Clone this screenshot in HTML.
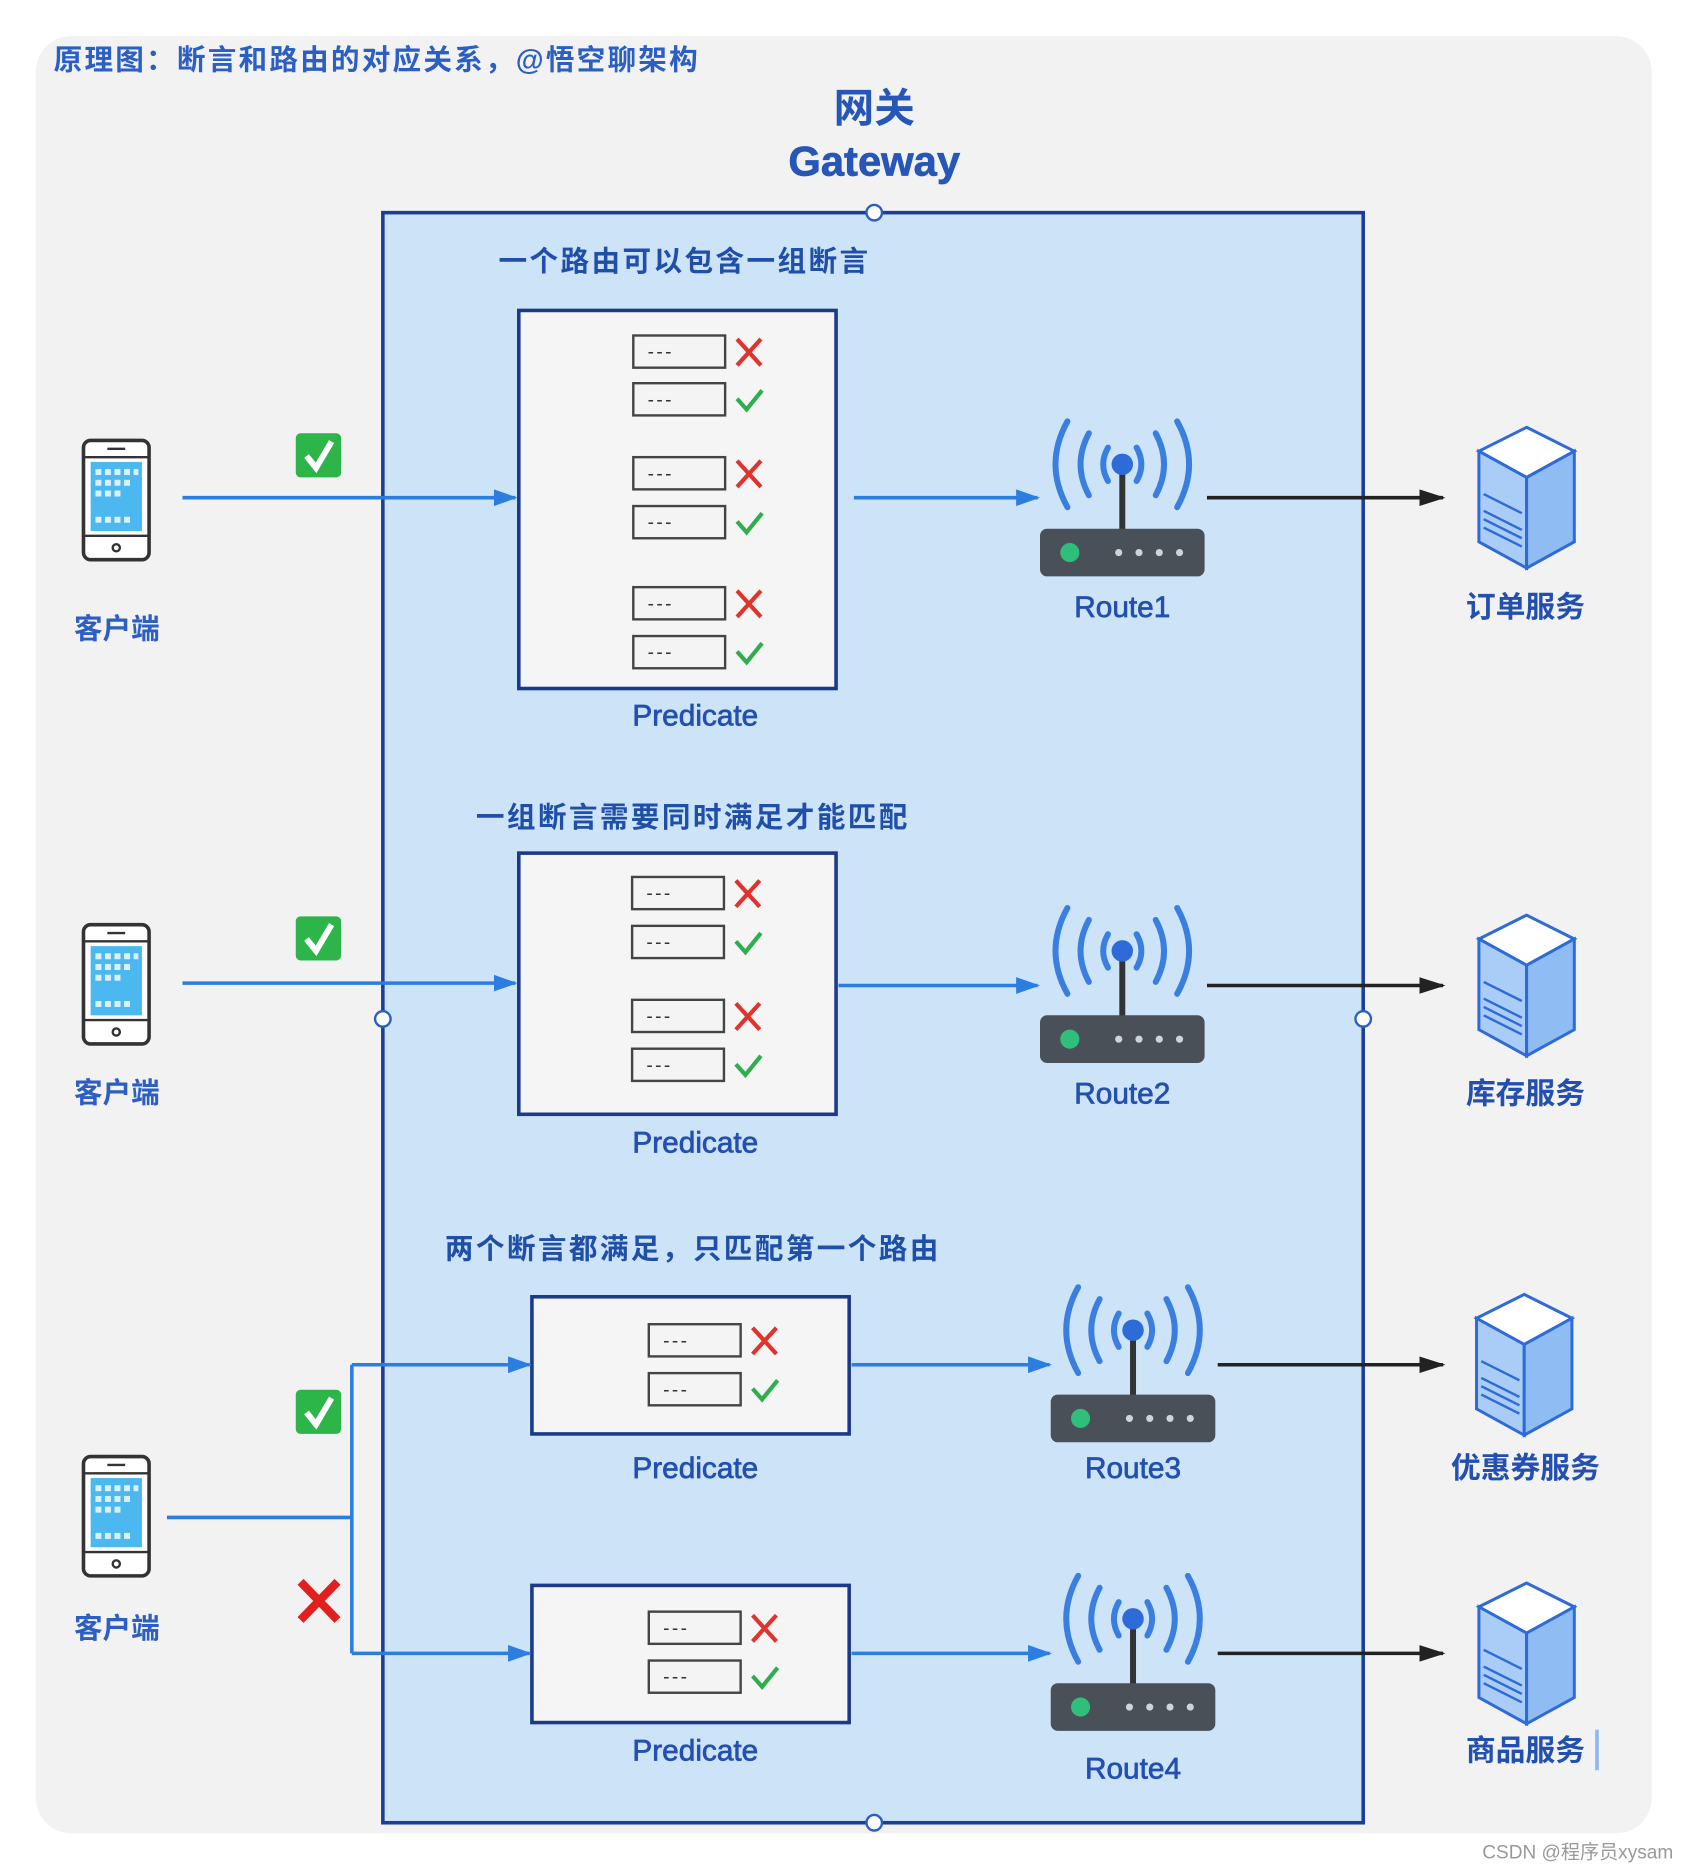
<!DOCTYPE html>
<html><head><meta charset="utf-8">
<style>
html,body{margin:0;padding:0;background:#fff;}
svg{display:block;}
text{font-family:"Liberation Sans","Noto Sans CJK SC",sans-serif;}
</style></head>
<body>
<svg width="1690" height="1872" viewBox="0 0 1417 1569" xmlns="http://www.w3.org/2000/svg">
<defs>
  <marker id="ak" markerWidth="22" markerHeight="14" refX="20" refY="7" orient="auto" markerUnits="userSpaceOnUse">
    <path d="M0,0 L22,7 L0,14 z" fill="#222"/>
  </marker>
  <marker id="ab2" markerWidth="20" markerHeight="14" refX="18" refY="7" orient="auto" markerUnits="userSpaceOnUse">
    <path d="M0,0 L20,7 L0,14 z" fill="#2b7de0"/>
  </marker>
  <g id="rowx">
    <rect x="0" y="0" width="77" height="27" fill="#f4f4f4" stroke="#444" stroke-width="2"/>
    <text x="12" y="19" font-size="16" fill="#333" letter-spacing="2">---</text>
    <path d="M87,3 L107,25 M107,3 L87,25" stroke="#e0332e" stroke-width="3.5"/>
  </g>
  <g id="rowv">
    <rect x="0" y="0" width="77" height="27" fill="#f4f4f4" stroke="#444" stroke-width="2"/>
    <text x="12" y="19" font-size="16" fill="#333" letter-spacing="2">---</text>
    <path d="M87,13 L95,22 L108,6" stroke="#2fae4d" stroke-width="3.5" fill="none"/>
  </g>
  <g id="router">
    <g fill="none" stroke="#3a7fe0" stroke-width="5" stroke-linecap="round">
      <path d="M-12,-14 Q-20,0 -12,14"/><path d="M12,-14 Q20,0 12,14"/>
      <path d="M-28,-26 Q-42,0 -28,26"/><path d="M28,-26 Q42,0 28,26"/>
      <path d="M-46,-36 Q-66,0 -46,36"/><path d="M46,-36 Q66,0 46,36"/>
    </g>
    <line x1="0" y1="0" x2="0" y2="55" stroke="#333" stroke-width="5"/>
    <circle cx="0" cy="0" r="9" fill="#2e6ad8"/>
    <rect x="-69" y="54" width="138" height="40" rx="6" fill="#4a5058"/>
    <circle cx="-44" cy="74" r="8" fill="#2fbf7a"/>
    <g fill="#d0d3d8"><circle cx="-3" cy="74" r="3"/><circle cx="14" cy="74" r="3"/><circle cx="31" cy="74" r="3"/><circle cx="48" cy="74" r="3"/></g>
  </g>
  <g id="phone">
    <rect x="0" y="0" width="55" height="100" rx="6" fill="#fff" stroke="#333" stroke-width="3"/>
    <line x1="0" y1="14" x2="55" y2="14" stroke="#333" stroke-width="2"/>
    <line x1="0" y1="80" x2="55" y2="80" stroke="#333" stroke-width="2"/>
    <line x1="20" y1="7" x2="35" y2="7" stroke="#333" stroke-width="2"/>
    <circle cx="27.5" cy="90" r="3" fill="none" stroke="#333" stroke-width="2"/>
    <rect x="6" y="18" width="43" height="58" fill="#4bb8ef"/>
    <g fill="#fff" opacity="0.8">
      <rect x="10" y="24" width="5" height="5"/><rect x="18" y="24" width="5" height="5"/><rect x="26" y="24" width="5" height="5"/><rect x="34" y="24" width="5" height="5"/><rect x="42" y="24" width="4" height="5"/>
      <rect x="10" y="33" width="5" height="5"/><rect x="18" y="33" width="5" height="5"/><rect x="26" y="33" width="5" height="5"/><rect x="34" y="33" width="5" height="5"/>
      <rect x="10" y="42" width="5" height="5"/><rect x="18" y="42" width="5" height="5"/><rect x="26" y="42" width="5" height="5"/>
      <rect x="10" y="64" width="5" height="5"/><rect x="18" y="64" width="5" height="5"/><rect x="26" y="64" width="5" height="5"/><rect x="34" y="64" width="5" height="5"/>
    </g>
  </g>
  <g id="server">
    <path d="M0,20 L40,0 L80,20 L40,42 z" fill="#fff" stroke="#2e6ad8" stroke-width="2.5"/>
    <path d="M0,20 L40,42 L40,118 L0,96 z" fill="#a9cdf6" stroke="#2e6ad8" stroke-width="2.5"/>
    <path d="M80,20 L40,42 L40,118 L80,96 z" fill="#8fbcf2" stroke="#2e6ad8" stroke-width="2.5"/>
    <g stroke="#2e6ad8" stroke-width="2"><line x1="4" y1="70" x2="36" y2="86"/><line x1="4" y1="77" x2="36" y2="93"/><line x1="4" y1="84" x2="36" y2="100"/><line x1="4" y1="56" x2="36" y2="72"/></g>
  </g>
  <g id="okbox">
    <rect x="0" y="0" width="38" height="37" rx="4" fill="#2db54a"/>
    <path d="M9,19 L17,29 L30,7" stroke="#fff" stroke-width="5" fill="none"/>
  </g>
</defs>

<rect x="0" y="0" width="1417" height="1569" fill="#fff"/>
<rect x="30" y="30" width="1355" height="1507" rx="30" fill="#f2f2f2"/>
<text x="45" y="58" font-size="24" font-weight="bold" fill="#2b5fc4" textLength="540" lengthAdjust="spacing">原理图：断言和路由的对应关系，@悟空聊架构</text>
<text x="733" y="102" font-size="34" font-weight="bold" fill="#2556b8" text-anchor="middle">网关</text>
<text x="733" y="147" font-size="35" font-weight="600" fill="#2556b8" text-anchor="middle" stroke="#2556b8" stroke-width="0.6">Gateway</text>

<rect x="321" y="178" width="822" height="1350" fill="#cce3f8" stroke="#1c3f96" stroke-width="3"/>
<g fill="#fff" stroke="#2b5fc4" stroke-width="2">
  <circle cx="733" cy="178" r="6.5"/><circle cx="321" cy="854" r="6.5"/><circle cx="1143" cy="854" r="6.5"/><circle cx="733" cy="1528" r="6.5"/>
</g>

<g font-size="24" font-weight="bold" fill="#1f4fa8" letter-spacing="2">
<text x="418" y="227">一个路由可以包含一组断言</text>
<text x="399" y="693">一组断言需要同时满足才能匹配</text>
<text x="373" y="1055">两个断言都满足，只匹配第一个路由</text>
</g>

<g fill="#f5f5f5" stroke="#1c3a8a" stroke-width="3">
<rect x="435" y="260" width="266" height="317"/>
<rect x="435" y="715" width="266" height="219"/>
<rect x="446" y="1087" width="266" height="115"/>
<rect x="446" y="1329" width="266" height="115"/>
</g>
<use href="#rowx" x="531" y="281"/><use href="#rowv" x="531" y="321"/>
<use href="#rowx" x="531" y="383"/><use href="#rowv" x="531" y="424"/>
<use href="#rowx" x="531" y="492"/><use href="#rowv" x="531" y="533"/>
<use href="#rowx" x="530" y="735"/><use href="#rowv" x="530" y="776"/>
<use href="#rowx" x="530" y="838"/><use href="#rowv" x="530" y="879"/>
<use href="#rowx" x="544" y="1110"/><use href="#rowv" x="544" y="1151"/>
<use href="#rowx" x="544" y="1351"/><use href="#rowv" x="544" y="1392"/>

<g font-size="25" fill="#2350b0" text-anchor="middle" stroke="#2350b0" stroke-width="0.6">
<text x="583" y="608">Predicate</text>
<text x="583" y="966">Predicate</text>
<text x="583" y="1239">Predicate</text>
<text x="583" y="1476">Predicate</text>
<text x="941" y="517">Route1</text>
<text x="941" y="925">Route2</text>
<text x="950" y="1239">Route3</text>
<text x="950" y="1491">Route4</text>
</g>

<use href="#router" x="941" y="389"/>
<use href="#router" x="941" y="797"/>
<use href="#router" x="950" y="1115"/>
<use href="#router" x="950" y="1357"/>

<g stroke="#2b7de0" stroke-width="3" fill="none">
<line x1="153" y1="417" x2="432" y2="417" marker-end="url(#ab2)"/>
<line x1="716" y1="417" x2="870" y2="417" marker-end="url(#ab2)"/>
<line x1="153" y1="824" x2="432" y2="824" marker-end="url(#ab2)"/>
<line x1="703" y1="826" x2="870" y2="826" marker-end="url(#ab2)"/>
<line x1="140" y1="1272" x2="295" y2="1272"/>
<line x1="295" y1="1144" x2="295" y2="1386"/>
<line x1="295" y1="1144" x2="444" y2="1144" marker-end="url(#ab2)"/>
<line x1="295" y1="1386" x2="444" y2="1386" marker-end="url(#ab2)"/>
<line x1="714" y1="1144" x2="880" y2="1144" marker-end="url(#ab2)"/>
<line x1="714" y1="1386" x2="880" y2="1386" marker-end="url(#ab2)"/>
</g>
<g stroke="#222" stroke-width="3">
<line x1="1012" y1="417" x2="1210" y2="417" marker-end="url(#ak)"/>
<line x1="1012" y1="826" x2="1210" y2="826" marker-end="url(#ak)"/>
<line x1="1021" y1="1144" x2="1210" y2="1144" marker-end="url(#ak)"/>
<line x1="1021" y1="1386" x2="1210" y2="1386" marker-end="url(#ak)"/>
</g>

<use href="#phone" x="70" y="369"/>
<use href="#phone" x="70" y="775"/>
<use href="#phone" x="70" y="1221"/>
<g font-size="24" font-weight="bold" fill="#2b5fc4" text-anchor="middle">
<text x="98" y="535">客户端</text>
<text x="98" y="924">客户端</text>
<text x="98" y="1373">客户端</text>
</g>
<g font-size="25" font-weight="bold" fill="#2350b0" text-anchor="middle">
<text x="1279" y="517">订单服务</text>
<text x="1279" y="925">库存服务</text>
<text x="1279" y="1239">优惠券服务</text>
<text x="1279" y="1476">商品服务</text>
</g>
<line x1="1339" y1="1450" x2="1339" y2="1484" stroke="#8ab8ee" stroke-width="3"/>

<use href="#okbox" x="248" y="363"/>
<use href="#okbox" x="248" y="768"/>
<use href="#okbox" x="248" y="1165"/>
<path d="M252,1326 L283,1358 M283,1326 L252,1358" stroke="#e21f1f" stroke-width="7"/>

<use href="#server" x="1240" y="358"/>
<use href="#server" x="1240" y="767"/>
<use href="#server" x="1238" y="1085"/>
<use href="#server" x="1240" y="1327"/>

<text x="1403" y="1558" font-size="16" fill="#999" text-anchor="end">CSDN @程序员xysam</text>
</svg>
</body></html>
